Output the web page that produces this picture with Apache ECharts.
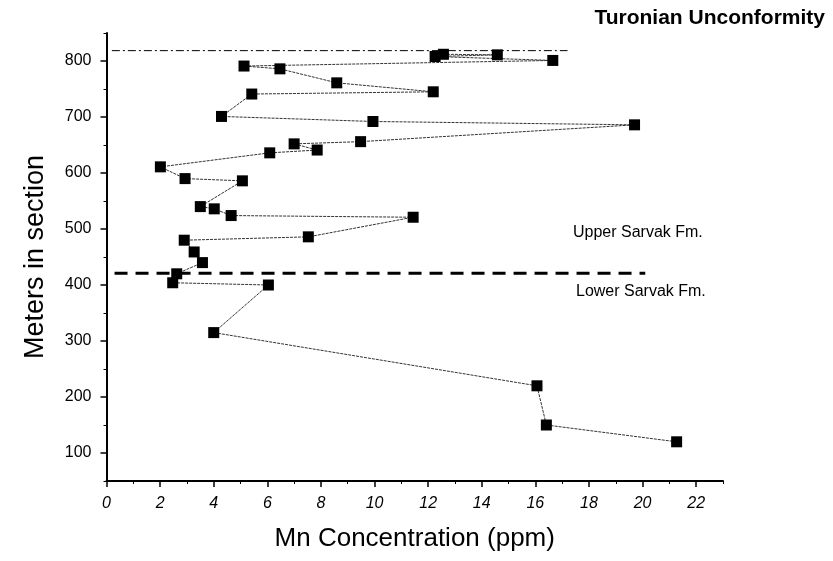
<!DOCTYPE html>
<html>
<head>
<meta charset="utf-8">
<script src="https://cdn.jsdelivr.net/npm/echarts@6/dist/echarts.min.js"></script>
<style>html,body{margin:0;padding:0;background:#fff}#c{width:833px;height:561px}</style>
</head>
<body>
<div id="c"></div>
<script>
// Mn concentration (ppm) and depth (m), ordered along the connecting line
const mnValues = [21.27, 16.41, 16.06, 4.0, 6.04, 2.47, 2.62, 3.58, 3.27, 2.9, 7.53, 11.44, 4.65, 4.02, 3.5, 5.07, 2.93, 2.01, 6.09, 7.86, 7.0, 9.48, 19.7, 9.94, 4.29, 5.42, 12.19, 8.59, 6.47, 5.13, 16.65, 12.26, 14.58, 12.57];
const depthValues = [120, 150, 220, 315, 400, 404, 420, 440, 459, 480, 486, 521, 524, 536, 540, 586, 590, 611, 636, 641, 652, 656, 686, 692, 701, 741, 745, 761, 786, 791, 801, 808, 811, 812];
// reference lines
const unconformityX = [0.2, 17.2];
const unconformityY = [818.5, 818.5];
const boundaryX = [0.3, 20.1];
const boundaryY = [421, 421];
// tick labels
const xTicks = [0, 2, 4, 6, 8, 10, 12, 14, 16, 18, 20, 22];
const xMinorTicks = [1, 3, 5, 7, 9, 11, 13, 15, 17, 19, 21, 23];
const yTicks = [100, 200, 300, 400, 500, 600, 700, 800];
const yMinorTicks = [50, 150, 250, 350, 450, 550, 650, 750, 850];

const pts = mnValues.map((v, i) => [v, depthValues[i]]);
const font = '"Liberation Sans", Arial, sans-serif';
const chart = echarts.init(document.getElementById('c'), null, {renderer: 'canvas'});
chart.setOption({
  animation: false,
  backgroundColor: '#fff',
  grid: {left: 106.5, right: 110, top: 33, bottom: 80, containLabel: false},
  title: [
    {text: 'Turonian Unconformity', right: 3, top: 3, textStyle: {fontFamily: font, fontWeight: 'bold', fontSize: 21, color: '#000'}},
  ],
  graphic: [
    {type: 'text', left: 573, top: 225, style: {text: 'Upper Sarvak Fm.', font: '16px ' + font, fill: '#000'}},
    {type: 'text', left: 576, top: 284, style: {text: 'Lower Sarvak Fm.', font: '16px ' + font, fill: '#000'}}
  ],
  xAxis: [{
    type: 'value', min: 0, max: 23, position: 'bottom',
    name: 'Mn Concentration (ppm)', nameLocation: 'middle', nameGap: 45,
    nameTextStyle: {fontFamily: font, fontSize: 26, color: '#000'},
    axisLine: {show: true, onZero: false, lineStyle: {color: '#000', width: 2}},
    axisTick: {show: true, customValues: xTicks, length: 6, lineStyle: {color: '#000', width: 1.5}},
    axisLabel: {customValues: xTicks, fontFamily: font, fontSize: 16, fontStyle: 'italic', color: '#000', margin: 15},
    splitLine: {show: false}
  }, {
    type: 'value', min: 0, max: 23, position: 'bottom',
    axisLine: {show: false},
    axisTick: {show: true, customValues: xMinorTicks, length: 3, lineStyle: {color: '#000', width: 1}},
    axisLabel: {show: false},
    splitLine: {show: false}
  }],
  yAxis: [{
    type: 'value', min: 50, max: 850, position: 'left',
    name: 'Meters in section', nameLocation: 'middle', nameGap: 57, nameRotate: 90,
    nameTextStyle: {fontFamily: font, fontSize: 27, color: '#000'},
    axisLine: {show: true, onZero: false, lineStyle: {color: '#000', width: 2}},
    axisTick: {show: true, customValues: yTicks, length: 6, lineStyle: {color: '#000', width: 1.5}},
    axisLabel: {customValues: yTicks, fontFamily: font, fontSize: 16, color: '#000', margin: 15},
    splitLine: {show: false}
  }, {
    type: 'value', min: 50, max: 850, position: 'left',
    axisLine: {show: false},
    axisTick: {show: true, customValues: yMinorTicks, length: 3, lineStyle: {color: '#000', width: 1}},
    axisLabel: {show: false},
    splitLine: {show: false}
  }],
  series: [{
    type: 'line', data: unconformityX.map((v, i) => [v, unconformityY[i]]),
    symbol: 'none', lineStyle: {color: '#000', width: 1, type: [8, 3, 2, 3]}, z: 1
  }, {
    type: 'line', data: boundaryX.map((v, i) => [v, boundaryY[i]]),
    symbol: 'none', lineStyle: {color: '#000', width: 3, type: [13, 8]}, z: 1
  }, {
    type: 'line', data: pts,
    symbol: 'rect', symbolSize: 11, showSymbol: true,
    itemStyle: {color: '#000'},
    lineStyle: {color: '#333', width: 1, type: [3, 1]}, z: 3
  }]
});
</script>
</body>
</html>
